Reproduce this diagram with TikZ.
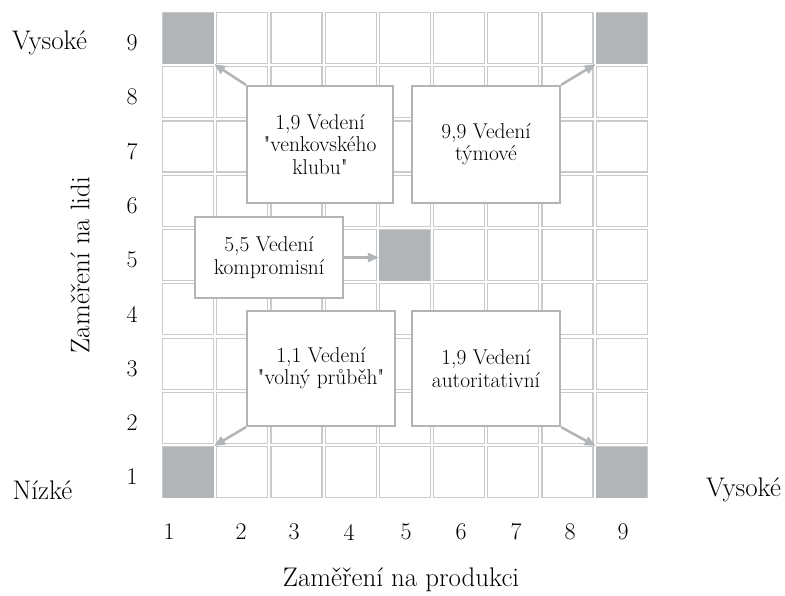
\documentclass[tikz,border=0pt]{standalone}
\usetikzlibrary{arrows.meta}
\definecolor{cellline}{HTML}{C8CACB}
\definecolor{darkcell}{HTML}{B2B5B7}
\definecolor{boxline}{HTML}{B2B5B7}
\begin{document}
\begin{tikzpicture}[x=1bp,y=-1bp,
 cell/.style={draw=cellline, line width=1.1bp, fill=white, minimum width=51bp, minimum height=51bp, inner sep=0pt, anchor=north west},
 darkc/.style={cell, draw=none, fill=darkcell},
 box/.style={draw=boxline, line width=2.2bp, fill=white, inner sep=0pt, align=center, font=\fontsize{21.5}{22.5}\selectfont},
 lab/.style={font=\fontsize{27}{30}\selectfont, inner sep=0pt},
 num/.style={font=\fontsize{24}{26}\selectfont, inner sep=0pt},
 arr/.style={draw=boxline, line width=2.5bp, -{Triangle[length=11bp,width=9bp]}}]
\useasboundingbox (0,0) rectangle (785,596);
\foreach \i in {1,...,9} {
  \foreach \r in {1,...,9} {
    \node[cell] (c-\i-\r) at ({162+54.2*(\i-1)},{12+54.25*(9-\r)}) {};
  }
}
\node[darkc] (d-1-9) at (162,12) {};
\node[darkc] (d-9-9) at (595.6,12) {};
\node[darkc] (d-5-5) at (378.8,229) {};
\node[darkc] (d-1-1) at (162,446) {};
\node[darkc] (d-9-1) at (595.6,446) {};
% boxes
\node[box, minimum width=146bp, minimum height=117bp] (A) at (320,144.5) {1,9 Vedení\\\textquotedbl venkovského\\klubu\textquotedbl};
\node[box, minimum width=148bp, minimum height=117bp] (B) at (486,144.5) {9,9 Vedení\\týmové};
\node[box, minimum width=148bp, minimum height=81bp] (C) at (269,257.5) {5,5 Vedení\\kompromisní};
\node[box, minimum width=148bp, minimum height=115bp] (D) at (321,368.5) {1,1 Vedení\\\textquotedbl volný průběh\textquotedbl};
\node[box, minimum width=148bp, minimum height=115bp] (E) at (486,368.5) {1,9 Vedení\\autoritativní};
% arrows
\draw[arr] (A.north west) -- (d-1-9.south east);
\draw[arr] (B.north east) -- (d-9-9.south west);
\draw[arr] (C.east) -- (C.east -| d-5-5.west);
\draw[arr] (D.south west) -- (d-1-1.north east);
\draw[arr] (E.south east) -- (d-9-1.north west);
% row labels
\foreach \r in {1,...,9} {
  \node[num] (r-\r) at (132,{43+54.25*(9-\r)}) {\r};
}
% column labels
\foreach \i/\xx in {1/169,2/241,3/294,4/349,5/406,6/461,7/516,8/570,9/623} {
  \node[num] (k-\i) at (\xx,532) {\i};
}
\node[lab] (vl) at (49.5,43) {Vysoké};
\node[lab] (nl) at (42.5,490) {Nízké};
\node[lab] (vr) at (743.5,490) {Vysoké};
\node[lab] (tx) at (401,580) {Zaměření na produkci};
\node[lab, rotate=90] (ty) at (80,265) {Zaměření na lidi};
\end{tikzpicture}
\end{document}
